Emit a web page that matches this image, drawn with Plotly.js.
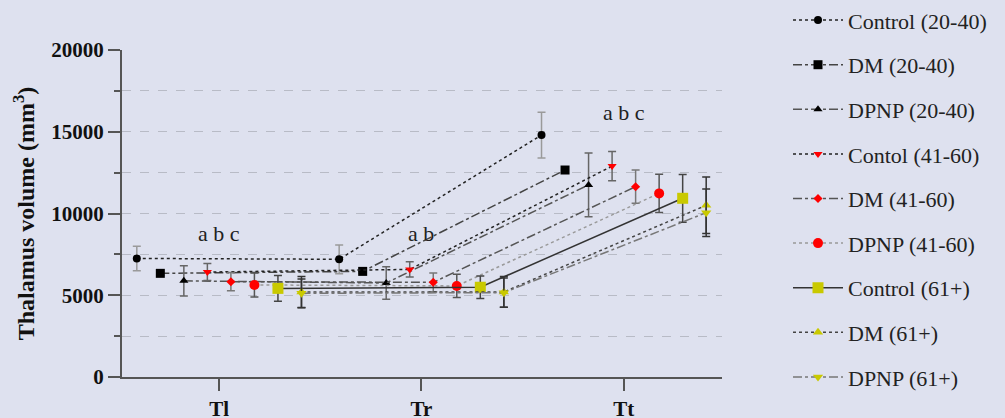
<!DOCTYPE html>
<html>
<head>
<meta charset="utf-8">
<script src="https://cdn.plot.ly/plotly-3.0.1.min.js"></script>
<style>html,body{margin:0;padding:0;background:#dee1ef;}#chart{width:1005px;height:418px;}</style>
</head>
<body>
<div id="chart"></div>
<script>
const categories = ['Tl', 'Tr', 'Tt'];
const seriesNames = ['Control (20-40)', 'DM (20-40)', 'DPNP (20-40)', 'Contol (41-60)', 'DM (41-60)', 'DPNP (41-60)', 'Control (61+)', 'DM (61+)', 'DPNP (61+)'];

const control2040 = [7250, 7200, 14800];
const control2040Err = [750, 880, 1400];
const dm2040 = [6340, 6460, 12660];
const dm2040Err = [120, 120, 200];
const dpnp2040 = [5880, 5750, 11750];
const dpnp2040Err = [920, 990, 1950];
const control4160 = [6420, 6580, 12900];
const control4160Err = [520, 470, 890];
const dm4160 = [5830, 5790, 11640];
const dm4160Err = [560, 570, 1020];
const dpnp4160 = [5630, 5570, 11230];
const dpnp4160Err = [730, 710, 1170];
const control61 = [5420, 5490, 10930];
const control61Err = [790, 690, 1460];
const dm61 = [5200, 5200, 10500];
const dm61Err = [950, 940, 1730];
const dpnp61 = [5120, 5160, 10050];
const dpnp61Err = [880, 900, 1450];

const annotLabels = ['a b c', 'a b', 'a b c'];
const annotY = [8800, 8800, 16150];

const yellow = '#c9c900';
const serif = 'Liberation Serif, Times New Roman, serif';

function tr(name, y, err, sym, mcol, msize, lcol, dash, ecol, grp) {
  return {
    type: 'scatter', mode: 'lines+markers', name: name,
    x: categories, y: y,
    offsetgroup: grp, legendgroup: name,
    marker: {symbol: sym, color: mcol, size: msize},
    line: {color: lcol, dash: dash, width: 1.5},
    error_y: {type: 'data', array: err, visible: true, color: ecol, thickness: 1.5, width: 4}
  };
}

const data = [
  tr(seriesNames[0], control2040, control2040Err, 'circle', '#000', 8, '#222', 'dot', '#9a9a9a', 'g1'),
  tr(seriesNames[1], dm2040, dm2040Err, 'square', '#000', 9, '#444', 'dashdot', '#555', 'g2'),
  tr(seriesNames[2], dpnp2040, dpnp2040Err, 'triangle-up', '#000', 8, '#555', 'dashdot', '#666', 'g3'),
  tr(seriesNames[3], control4160, control4160Err, 'triangle-down', '#ff0000', 8, '#222', 'dot', '#666', 'g4'),
  tr(seriesNames[4], dm4160, dm4160Err, 'diamond', '#ff0000', 7, '#555', 'dashdot', '#777', 'g5'),
  tr(seriesNames[5], dpnp4160, dpnp4160Err, 'circle', '#ff0000', 10, '#999', 'dot', '#555', 'g6'),
  tr(seriesNames[6], control61, control61Err, 'square', yellow, 11, '#333', 'solid', '#444', 'g7'),
  tr(seriesNames[7], dm61, dm61Err, 'triangle-up', yellow, 9, '#444', 'dot', '#333', 'g8'),
  tr(seriesNames[8], dpnp61, dpnp61Err, 'triangle-down', yellow, 9, '#777', 'dashdot', '#333', 'g8')
];

const annotations = categories.map((c, i) => ({
  x: c, y: annotY[i], xref: 'x', yref: 'y', text: annotLabels[i], showarrow: false,
  font: {family: serif, size: 22, color: '#222'}
}));

const layout = {
  width: 1005, height: 418,
  paper_bgcolor: '#dee1ef', plot_bgcolor: '#dee1ef',
  margin: {l: 122, r: 283, t: 50, b: 41, autoexpand: false},
  scattermode: 'group', scattergap: 0.07,
  showlegend: true,
  legend: {x: 1.11, xanchor: 'left', y: 1.155, yanchor: 'top', bgcolor: 'rgba(0,0,0,0)', maxheight: 1,
    font: {family: serif, size: 22, color: '#222'}, tracegroupgap: 13, itemwidth: 50},
  xaxis: {
    type: 'category', range: [-0.48, 2.485],
    showline: true, linecolor: '#555', linewidth: 2, ticks: 'outside', ticklen: 12, tickwidth: 2, tickcolor: '#555',
    showgrid: false, zeroline: false,
    tickfont: {family: serif, size: 21, color: '#111', weight: 'bold'}
  },
  yaxis: {
    range: [0, 20000], dtick: 5000, tick0: 0, tickformat: 'd',
    showline: true, linecolor: '#555', linewidth: 2, ticks: 'outside', ticklen: 12, tickwidth: 2, tickcolor: '#555',
    showgrid: true, gridcolor: '#b8bbc6', griddash: 'dash', gridwidth: 1, zeroline: false,
    minor: {dtick: 2500, ticks: 'outside', ticklen: 6, tickcolor: '#555', tickwidth: 2, showgrid: true, gridcolor: '#b8bbc6', griddash: 'dash'},
    tickfont: {family: serif, size: 21, color: '#111', weight: 'bold'},
    title: {text: 'Thalamus volume (mm<sup>3</sup>)', font: {family: serif, size: 24, color: '#111', weight: 'bold'}, standoff: 10}
  },
  annotations: annotations
};

Plotly.newPlot('chart', data, layout, {displayModeBar: false, staticPlot: true});
</script>
</body>
</html>
